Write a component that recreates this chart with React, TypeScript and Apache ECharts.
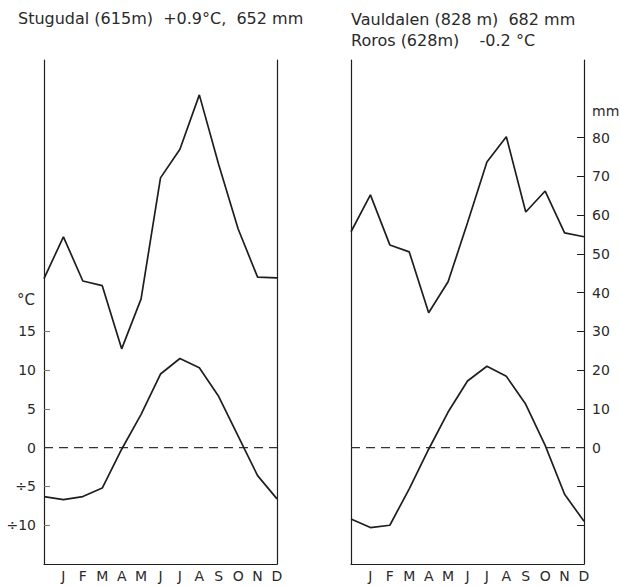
import React, { useEffect, useRef } from "react";
import * as echarts from "echarts";

// 13 points: leading (previous December) + J..D
const months = ["", "J", "F", "M", "A", "M", "J", "J", "A", "S", "O", "N", "D"];
const stugudalTemp = [-6.3, -6.7, -6.3, -5.2, -0.2, 4.3, 9.5, 11.5, 10.3, 6.6, 1.5, -3.6, -6.6];
const stugudalPrec = [43.6, 54.4, 43.0, 41.8, 25.5, 38.4, 69.6, 77.0, 91.0, 73.0, 56.4, 44.0, 43.8];
const rorosTemp = [-9.2, -10.3, -10.0, -5.3, -0.2, 4.6, 8.6, 10.5, 9.2, 5.6, 0.3, -6.0, -9.5];
const vauldalenPrec = [55.7, 65.2, 52.3, 50.5, 34.8, 42.8, 58.0, 73.7, 80.2, 60.8, 66.2, 55.4, 54.4];
const zeroRef = [0, 0, 0, 0, 0, 0, 0, 0, 0, 0, 0, 0, 0];
const tempTicks = [-10, -5, 0, 5, 10, 15];
const precLabelTicks = [0, 10, 20, 30, 40, 50, 60, 70, 80];
const precTicks = [-20, -10, 0, 10, 20, 30, 40, 50, 60, 70, 80];

const FONT = "DejaVu Sans, Verdana, sans-serif";
const INK = "#1e1e1e";
const TXT = "#2a2a2a";

export default function App() {
  const ref = useRef<HTMLDivElement>(null);
  useEffect(() => {
    if (!ref.current) return;
    const chart = echarts.init(ref.current, null, { renderer: "svg" });
    const lineStyle = { color: INK, width: 1.7 };
    const dashStyle = { color: "#333", width: 1.2, type: [9, 6] };
    const xAxisBase = {
      type: "category",
      data: months,
      boundaryGap: false,
      axisLine: { show: true, onZero: false, lineStyle: { color: INK, width: 1.2 } },
      axisTick: { show: false },
      axisLabel: { interval: 0, color: TXT, fontSize: 14, fontFamily: FONT, margin: 5 },
      splitLine: { show: false },
    };
    const titleStyle = { fontSize: 16, fontFamily: FONT, fill: TXT };
    chart.setOption({
      animation: false,
      backgroundColor: "#fff",
      grid: [
        { left: 44, right: 343, top: 60, bottom: 23 },
        { left: 351, right: 36, top: 60, bottom: 23 },
      ],
      xAxis: [
        { ...xAxisBase, gridIndex: 0 },
        { ...xAxisBase, gridIndex: 1 },
      ],
      yAxis: [
        {
          type: "value", gridIndex: 0, position: "left", min: -15, max: 50,
          axisLine: { show: true, onZero: false, lineStyle: { color: INK, width: 1.2 } },
          axisTick: { show: true, inside: true, length: 6, customValues: tempTicks, lineStyle: { color: "#777" } },
          axisLabel: {
            customValues: tempTicks, color: TXT, fontSize: 14, fontFamily: FONT, margin: 8,
            formatter: (v: number) => (v < 0 ? "÷" + Math.abs(v) : String(v)),
          },
          splitLine: { show: false },
        },
        {
          type: "value", gridIndex: 0, position: "right", min: -30, max: 100,
          axisLine: { show: true, onZero: false, lineStyle: { color: INK, width: 1.2 } },
          axisTick: { show: false }, axisLabel: { show: false }, splitLine: { show: false },
        },
        {
          type: "value", gridIndex: 1, position: "left", min: -15, max: 50,
          axisLine: { show: true, onZero: false, lineStyle: { color: INK, width: 1.2 } },
          axisTick: { show: false }, axisLabel: { show: false }, splitLine: { show: false },
        },
        {
          type: "value", gridIndex: 1, position: "right", min: -30, max: 100,
          axisLine: { show: true, onZero: false, lineStyle: { color: INK, width: 1.2 } },
          axisTick: { show: true, inside: true, length: 7, customValues: precTicks, lineStyle: { color: INK } },
          axisLabel: { customValues: precLabelTicks, color: TXT, fontSize: 14, fontFamily: FONT, margin: 8 },
          splitLine: { show: false },
        },
      ],
      series: [
        { name: "zero L", type: "line", xAxisIndex: 0, yAxisIndex: 0, data: zeroRef, showSymbol: false, silent: true, lineStyle: dashStyle },
        { name: "zero R", type: "line", xAxisIndex: 1, yAxisIndex: 2, data: zeroRef, showSymbol: false, silent: true, lineStyle: dashStyle },
        { name: "Stugudal °C", type: "line", xAxisIndex: 0, yAxisIndex: 0, data: stugudalTemp, showSymbol: false, lineStyle },
        { name: "Stugudal mm", type: "line", xAxisIndex: 0, yAxisIndex: 1, data: stugudalPrec, showSymbol: false, lineStyle },
        { name: "Roros °C", type: "line", xAxisIndex: 1, yAxisIndex: 2, data: rorosTemp, showSymbol: false, lineStyle },
        { name: "Vauldalen mm", type: "line", xAxisIndex: 1, yAxisIndex: 3, data: vauldalenPrec, showSymbol: false, lineStyle },
      ],
      graphic: [
        { type: "text", left: 18, top: 10, style: { ...titleStyle, text: "Stugudal (615m)  +0.9°C,  652 mm" } },
        { type: "text", left: 351, top: 11, style: { ...titleStyle, text: "Vauldalen (828 m)  682 mm" } },
        { type: "text", left: 351, top: 32, style: { ...titleStyle, text: "Roros (628m)    -0.2 °C" } },
        { type: "text", left: 17, top: 292, style: { text: "°C", fontSize: 15, fontFamily: FONT, fill: TXT } },
        { type: "text", left: 592, top: 104, style: { text: "mm", fontSize: 14, fontFamily: FONT, fill: TXT } },
      ],
    });
    return () => chart.dispose();
  }, []);
  return <div ref={ref} style={{ position: "absolute", left: 0, top: 0, width: 620, height: 587 }} />;
}
